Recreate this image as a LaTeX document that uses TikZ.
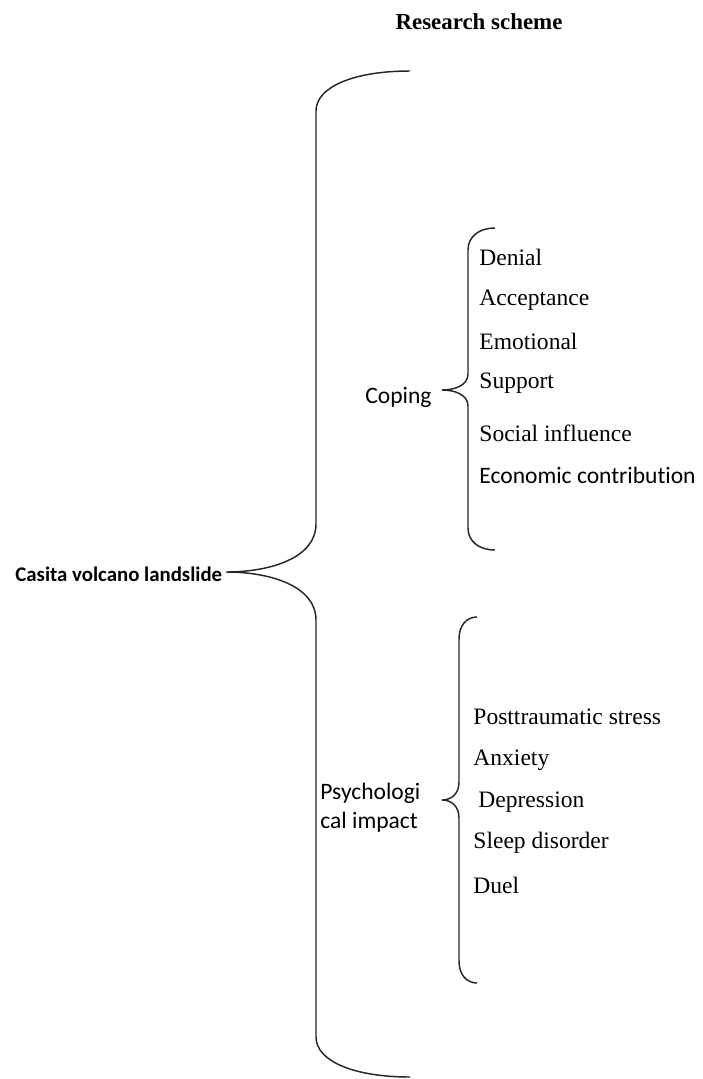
\documentclass[tikz,border=0pt]{standalone}
\usepackage{fontspec}
\setmainfont{Liberation Serif}
\newfontfamily\calibri[Ligatures=NoCommon]{Carlito}

% curly brace: x of stem, x of ends, top y, bottom y, tip x, tip y, end bend, middle bend
\newcommand{\wordbrace}[8]{
	\draw[bracestroke] (#2,#3) .. controls +({-0.6*(#2-#1)},0) and +(0,{-0.6*#7}) .. (#1,{#3+#7})
		-- (#1,{#6-#8}) .. controls +(0,{0.7*#8}) and +({0.5*(#1-#5)},0) .. (#5,#6)
		.. controls +({0.5*(#1-#5)},0) and +(0,{-0.7*#8}) .. (#1,{#6+#8})
		-- (#1,{#4-#7}) .. controls +(0,{0.6*#7}) and +({-0.6*(#2-#1)},0) .. (#2,#4);
}

\tikzset{
	bracestroke/.style={line width=0.7pt, color=black!85},
	serifitem/.style={anchor=west, inner sep=0pt, font=\fontsize{11.3pt}{13pt}\selectfont},
	sansitem/.style={anchor=west, inner sep=0pt, font=\calibri\fontsize{11.3pt}{14pt}\selectfont}
}

\begin{document}
\begin{tikzpicture}[x=0.48pt, y=-0.48pt]
		\useasboundingbox (0,0) rectangle (702,1079);
		\node[font=\bfseries\fontsize{11pt}{13pt}\selectfont] (title) at (479,22) {Research scheme};
		% main brace
		\wordbrace{316}{410}{71}{1077}{226}{572}{40}{48}
		\node[sansitem, font=\calibri\bfseries\fontsize{10pt}{12pt}\selectfont] (casita) at (15,574) {Casita volcano landslide};
		% coping branch
		\node[sansitem] (coping) at (365,397) {Coping};
		\wordbrace{468}{495}{228}{550}{442}{390}{22}{16}
		\node[serifitem] (denial) at (479,257) {Denial};
		\node[serifitem] (accept) at (479,300) {Acceptance};
		\node[serifitem] (emotion) at (479,341) {Emotional};
		\node[serifitem] (support) at (479,383) {Support};
		\node[serifitem] (social) at (479,433) {Social influence};
		\node[sansitem] (economic) at (479,475) {Economic contribution};
		% psychological impact branch
		\node[sansitem, align=left] (psych) at (320,808) {Psychologi\\cal impact};
		\wordbrace{459}{477}{617}{983}{442}{800}{22}{18}
		\node[serifitem] (ptsd) at (473,717) {Posttraumatic stress};
		\node[serifitem] (anxiety) at (473,760) {Anxiety};
		\node[serifitem] (depress) at (478,802) {Depression};
		\node[serifitem] (sleep) at (473,843) {Sleep disorder};
		\node[serifitem] (duel) at (473,885) {Duel};
	\end{tikzpicture}
\end{document}
